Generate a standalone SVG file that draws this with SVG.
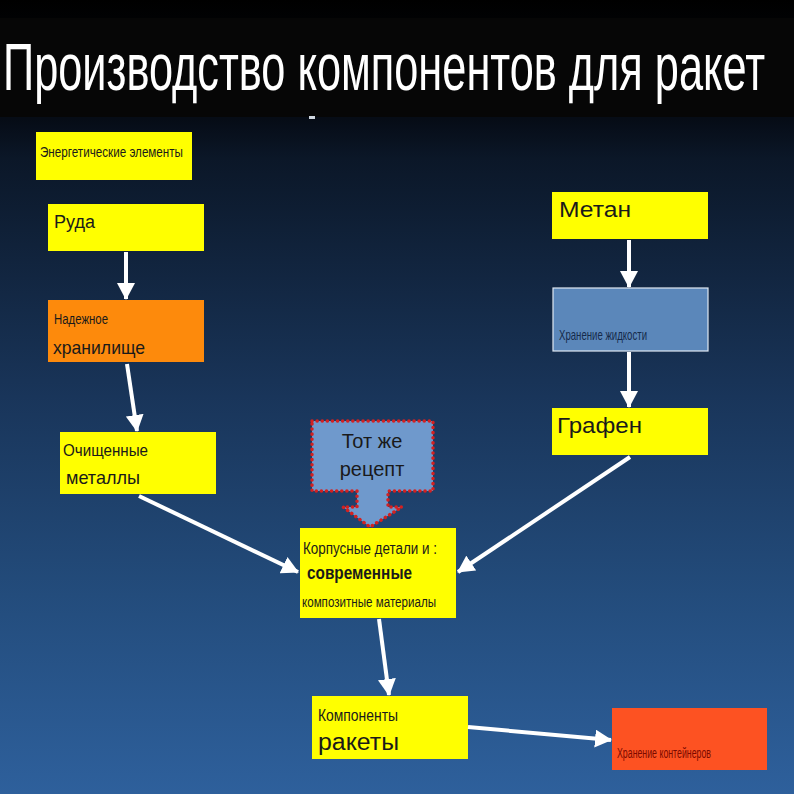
<svg xmlns="http://www.w3.org/2000/svg" width="794" height="794" viewBox="0 0 794 794">
<defs>
<linearGradient id="bg" x1="0" y1="0" x2="0" y2="1">
<stop offset="0" stop-color="#000000"/>
<stop offset="0.15" stop-color="#060c16"/>
<stop offset="0.2" stop-color="#0b1728"/>
<stop offset="0.5" stop-color="#19355a"/>
<stop offset="0.75" stop-color="#234c7c"/>
<stop offset="1" stop-color="#2e609c"/>
</linearGradient>
<marker id="ah" markerUnits="userSpaceOnUse" markerWidth="18" markerHeight="18" viewBox="0 0 18 18" refX="16" refY="9" orient="auto">
<path d="M0,0 L17,9 L0,18 Z" fill="#ffffff"/>
</marker>
<style>
.y{fill:#ffff00}
.t{font-family:"Liberation Sans",Arial,sans-serif;fill:#1a1a1a}
.n{font-family:"Liberation Sans",Arial,sans-serif;fill:#1a1a1a}
.c line{stroke:#ffffff;stroke-width:4;marker-end:url(#ah)}
</style>
</defs>
<rect width="794" height="794" fill="url(#bg)"/>
<rect x="0" y="18" width="794" height="99" fill="#060606"/>
<g transform="translate(3,90) scale(0.62,1)">
<text x="0" y="0" font-family="'Liberation Sans',Arial,sans-serif" font-size="66" fill="#ffffff" textLength="1229" lengthAdjust="spacingAndGlyphs">Производство компонентов для ракет</text>
</g>
<rect x="309" y="116" width="6" height="3" fill="#cfd6df"/>

<g id="energy">
<rect class="y" x="36" y="132" width="156" height="48"/>
<text class="n" x="40" y="157" font-size="15" textLength="143" lengthAdjust="spacingAndGlyphs">Энергетические элементы</text>
</g>
<g id="ruda">
<rect class="y" x="48" y="204" width="156" height="47"/>
<text class="t" x="54" y="228" font-size="18">Руда</text>
</g>
<g id="storage">
<rect x="48" y="300" width="156" height="62" fill="#fd8a0c"/>
<text class="n" x="54" y="324" font-size="14" textLength="54" lengthAdjust="spacingAndGlyphs">Надежное</text>
<text class="t" x="53" y="354" font-size="19" textLength="92" lengthAdjust="spacingAndGlyphs">хранилище</text>
</g>
<g id="metals">
<rect class="y" x="60" y="432" width="156" height="62"/>
<text class="t" x="63" y="456" font-size="16" textLength="85" lengthAdjust="spacingAndGlyphs">Очищенные</text>
<text class="t" x="66" y="484" font-size="19" textLength="74" lengthAdjust="spacingAndGlyphs">металлы</text>
</g>
<g id="methane">
<rect class="y" x="552" y="192" width="156" height="47"/>
<text class="t" x="559" y="217" font-size="22" textLength="72" lengthAdjust="spacingAndGlyphs">Метан</text>
</g>
<g id="liquid">
<rect x="553" y="288" width="155" height="63" fill="#5b87ba" stroke="#dfe8f2" stroke-width="1.2"/>
<text x="559" y="340" font-family="'Liberation Sans',Arial,sans-serif" font-size="15" fill="#152a4a" textLength="88" lengthAdjust="spacingAndGlyphs">Хранение жидкости</text>
</g>
<g id="graphene">
<rect class="y" x="552" y="408" width="156" height="47"/>
<text class="t" x="557" y="433" font-size="22" textLength="85" lengthAdjust="spacingAndGlyphs">Графен</text>
</g>
<g id="recipe">
<path d="M312,421 L433,421 L433,491 L388,491 L388,507 L402,507 L370,527 L343,507 L357,507 L357,491 L312,491 Z" fill="#6f99cc" stroke="#d42020" stroke-width="3.5" stroke-dasharray="0.1 5" stroke-linecap="round" stroke-linejoin="round"/>
<text class="t" x="372" y="448" font-size="20" text-anchor="middle">Тот же</text>
<text class="t" x="372" y="476" font-size="20" text-anchor="middle">рецепт</text>
</g>
<g id="body">
<rect class="y" x="300" y="528" width="156" height="90"/>
<text class="n" x="303" y="554" font-size="16" textLength="134" lengthAdjust="spacingAndGlyphs">Корпусные детали и :</text>
<text class="t" x="307" y="579" font-size="18" font-weight="bold" textLength="105" lengthAdjust="spacingAndGlyphs">современные</text>
<text class="n" x="302" y="607" font-size="14" textLength="134" lengthAdjust="spacingAndGlyphs">композитные материалы</text>
</g>
<g id="components">
<rect class="y" x="312" y="696" width="156" height="63"/>
<text class="n" x="318" y="721" font-size="17" textLength="80" lengthAdjust="spacingAndGlyphs">Компоненты</text>
<text class="t" x="318" y="750" font-size="23" textLength="81" lengthAdjust="spacingAndGlyphs">ракеты</text>
</g>
<g id="containers">
<rect x="612" y="708" width="155" height="62" fill="#fd5222"/>
<text x="617" y="758" font-family="'Liberation Sans',Arial,sans-serif" font-size="14" fill="#7a0a00" textLength="94" lengthAdjust="spacingAndGlyphs">Хранение контейнеров</text>
</g>

<g id="connectors" class="c">
<line x1="126" y1="252" x2="126" y2="299"/>
<line x1="127" y1="364" x2="137" y2="431"/>
<line x1="629" y1="240" x2="629" y2="287"/>
<line x1="629" y1="352" x2="629" y2="407"/>
<line x1="630" y1="457" x2="458" y2="572"/>
<line x1="139" y1="496" x2="298" y2="572"/>
<line x1="379" y1="619" x2="389" y2="695"/>
<line x1="468" y1="727" x2="611" y2="740"/>
</g>
</svg>
